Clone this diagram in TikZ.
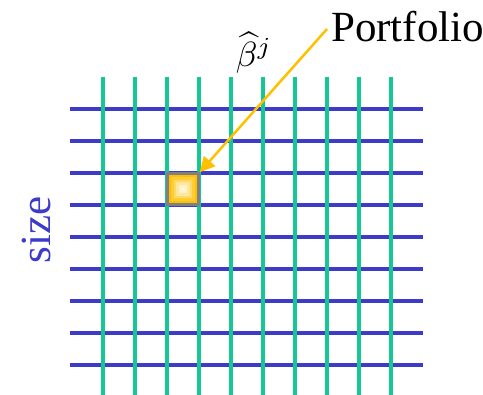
\documentclass[tikz,border=0pt]{standalone}
\usepackage{fontspec}
\setmainfont{Liberation Serif}
\usetikzlibrary{arrows.meta}
\definecolor{gridblue}{RGB}{60,60,200}
\definecolor{gridgreen}{RGB}{20,200,150}
\definecolor{pfyellow}{RGB}{255,192,0}
\definecolor{pfgray}{RGB}{128,128,128}
\tikzset{
  hline/.style={gridblue,line width=3.5pt},
  vline/.style={gridgreen,line width=3.5pt},
  pointer/.style={pfyellow,line width=2.5pt,-{Triangle[length=15pt,width=15pt]}},
  lbl/.style={inner sep=0pt,font=\fontsize{43}{48}\selectfont}
}
\begin{document}
\begin{tikzpicture}[x=1pt,y=-1pt]
\useasboundingbox (0,0) rectangle (483,395);
% horizontal (blue) lines
\foreach \i in {0,...,8}{
  \draw[hline] (70,109+32*\i) -- (423,109+32*\i);
}
% vertical (green) lines
\foreach \i in {0,...,9}{
  \draw[vline] (103+32*\i,77) -- (103+32*\i,396);
}
% highlighted cell with gradient
\foreach \k/\c in {0/0,1/20,2/40,3/60,4/80,5/92}{
  \fill[pfyellow!\the\numexpr100-\c\relax!white] (168+2.8*\k,174+2.8*\k) rectangle (198-2.8*\k,204-2.8*\k);
}
\node[draw=pfgray,line width=2.5pt,minimum size=31pt,inner sep=0pt] (cell) at (183,189) {};
% labels
\node[lbl,anchor=base west] (pf) at (331,42) {Portfolio};
\node[inner sep=0pt,scale=3.5] (beta) at (254,53) {$\widehat{\beta}^{j}$};
\node[lbl,text=gridblue,rotate=90,anchor=base] (size) at (50,230) {size};
% arrow
\coordinate (start) at (327,29);
\draw[pointer] (start) -- (cell.north east);
\end{tikzpicture}
\end{document}
